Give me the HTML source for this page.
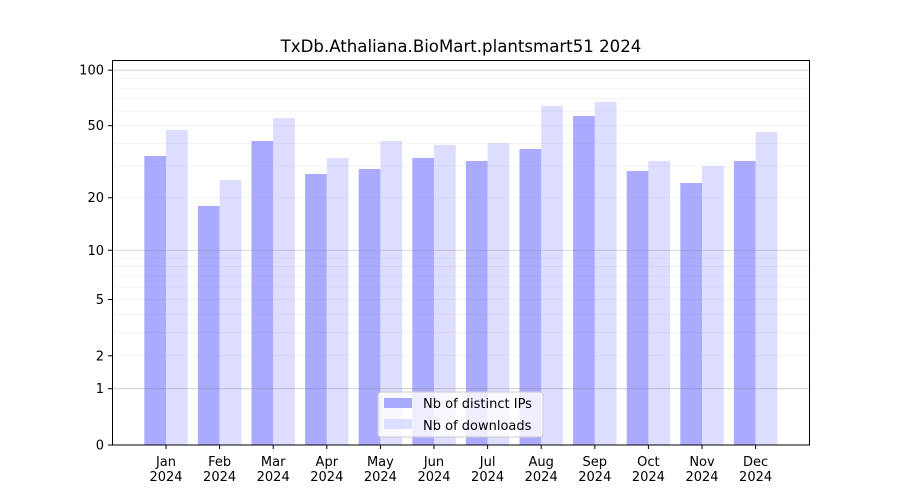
<!DOCTYPE html>
<html><head><meta charset="utf-8"><style>body{margin:0;background:#fff}svg{display:block;font-family:"DejaVu Sans","Liberation Sans",sans-serif}</style></head><body>
<svg width="900" height="500" viewBox="0 0 900 500" xmlns="http://www.w3.org/2000/svg">
<rect width="900" height="500" fill="#fff"/>
<g id="bars"></g>
<g id="grid" stroke-width="0.8"></g>
<rect x="112.5" y="60.5" width="697" height="384.5" fill="none" stroke="#000" stroke-width="1"/>
<g id="ticks" font-size="13" fill="#000"></g>
<text x="461" y="52" font-size="16.6" text-anchor="middle">TxDb.Athaliana.BioMart.plantsmart51 2024</text>
<g>
<rect x="378" y="392" width="165" height="45" rx="3" fill="#fff" fill-opacity="0.8" stroke="#ccc"/>
<rect x="384" y="398" width="28" height="10" fill="#aaaaff"/>
<rect x="384" y="419" width="28" height="10" fill="#ddddff"/>
<text x="423" y="408" font-size="13">Nb of distinct IPs</text>
<text x="423" y="430" font-size="13">Nb of downloads</text>
</g>
<script>
const ns="http://www.w3.org/2000/svg";
function el(p,t,a,txt){const e=document.createElementNS(ns,t);for(const k in a)e.setAttribute(k,a[k]);if(txt!==undefined)e.textContent=txt;document.getElementById(p).appendChild(e);return e;}
const Y=v=>445-187*Math.log10(1+v);
const vals=[2,3,4,5,6,7,8,9,20,30,40,50,60,70,80,90];
vals.forEach(v=>el("grid","line",{x1:113,x2:810,y1:Y(v),y2:Y(v),stroke:"#888","stroke-opacity":"0.12"}));
[1,10,100].forEach(v=>el("grid","line",{x1:113,x2:810,y1:Y(v),y2:Y(v),stroke:"#888","stroke-opacity":"0.45"}));
const ip=[156,206,141,174,169,158,161,149,116,171,183,161];
const dl=[130,180,118,158,141,145,143,106,102,161,166,132];
const m=["Jan","Feb","Mar","Apr","May","Jun","Jul","Aug","Sep","Oct","Nov","Dec"];
for(let i=0;i<12;i++){const c=166+i*53.6;
el("bars","rect",{x:c-21.7,y:ip[i],width:21.7,height:445-ip[i],fill:"#aaaaff"});
el("bars","rect",{x:c,y:dl[i],width:21.7,height:445-dl[i],fill:"#ddddff"});
el("ticks","line",{x1:c,x2:c,y1:445,y2:449,stroke:"#000"});
el("ticks","text",{x:c,y:466,"text-anchor":"middle"},m[i]);
el("ticks","text",{x:c,y:481,"text-anchor":"middle"},"2024");}
[[0,"0"],[1,"1"],[2,"2"],[5,"5"],[10,"10"],[20,"20"],[50,"50"],[100,"100"]].forEach(([v,t])=>{
el("ticks","line",{x1:108,x2:112,y1:Y(v),y2:Y(v),stroke:"#000"});
el("ticks","text",{x:104,y:Y(v)+4.5,"text-anchor":"end"},t);});
</script>
</svg>
</body></html>
